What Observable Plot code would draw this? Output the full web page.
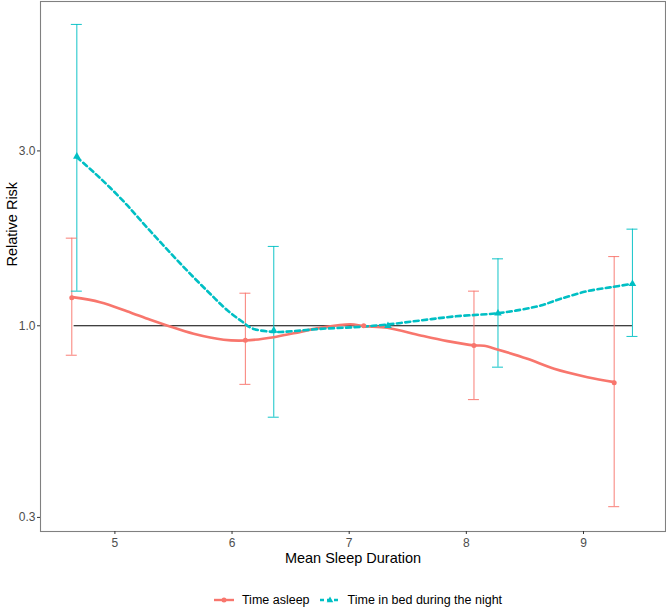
<!DOCTYPE html>
<html>
<head>
<meta charset="utf-8">
<script src="https://cdn.jsdelivr.net/npm/d3@7"></script>
<script src="https://cdn.jsdelivr.net/npm/@observablehq/plot@0.6"></script>
<style>
  body { margin: 0; background: #fff; font-family: "Liberation Sans", Arial, sans-serif; }
  #legend { display: flex; justify-content: center; align-items: center; height: 16px; padding-top: 17px; font-size: 12.5px; color: #000; padding-left: 50px; }
  #legend .item { display: flex; align-items: center; margin: 0 5px; }
  #legend svg { margin-right: 8px; }
</style>
</head>
<body>
<div id="chart"></div>
<div id="legend"></div>
<script>
// ---- data ----
const seriesNames = ["Time asleep", "Time in bed during the night"];
const seriesColors = ["#F8766D", "#00BFC4"];

// smoothed curves
const asleepCurveX = [4.638,4.874,5.103,5.302,5.444,5.672,5.928,6.114,6.356,6.526,6.754,7.011,7.125,7.325,7.609,7.838,8.065,8.150,8.265,8.521,8.749,9.034,9.262];
const asleepCurveRR = [1.197,1.160,1.096,1.038,1.002,0.951,0.916,0.912,0.931,0.954,0.987,1.010,0.998,0.988,0.941,0.908,0.884,0.882,0.862,0.813,0.763,0.724,0.702];
const bedCurveX = [4.675,4.817,4.960,5.103,5.244,5.387,5.530,5.672,5.815,5.957,6.085,6.171,6.356,6.526,6.755,7.039,7.325,7.609,7.894,8.265,8.464,8.635,8.806,9.034,9.233,9.419];
const bedCurveRR = [2.884,2.628,2.380,2.136,1.901,1.693,1.512,1.356,1.221,1.104,1.027,0.984,0.962,0.967,0.981,0.991,1.008,1.034,1.060,1.082,1.106,1.136,1.185,1.243,1.274,1.302];

// point estimates with confidence intervals (null = reference category)
const asleepX = [4.632, 6.114, 7.124, 8.065, 9.262];
const asleepRR = [1.192, 0.913, 1.0, 0.884, 0.699];
const asleepLo = [0.831, 0.692, null, 0.629, 0.321];
const asleepHi = [1.734, 1.227, null, 1.243, 1.545];
const bedX = [4.675, 6.356, 7.331, 8.270, 9.418];
const bedRR = [2.897, 0.971, 1.0, 1.082, 1.302];
const bedLo = [1.243, 0.563, null, 0.771, 0.935];
const bedHi = [6.64, 1.646, null, 1.523, 1.835];

// reference line at RR = 1
const refRR = [1.0];
const refX1 = [4.652];
const refX2 = [9.418];

const xTicks = [5, 6, 7, 8, 9];
const yTicks = [0.3, 1.0, 3.0];

// ---- tables ----
const curves = [
  ...asleepCurveX.map((x, i) => ({x, rr: asleepCurveRR[i], s: seriesNames[0]})),
  ...bedCurveX.map((x, i) => ({x, rr: bedCurveRR[i], s: seriesNames[1]}))
];
const points = [
  ...asleepX.map((x, i) => ({x, rr: asleepRR[i], lo: asleepLo[i], hi: asleepHi[i], s: seriesNames[0]})),
  ...bedX.map((x, i) => ({x, rr: bedRR[i], lo: bedLo[i], hi: bedHi[i], s: seriesNames[1]}))
];
const bars = points.filter(d => d.lo != null);
const caps = bars.flatMap(d => [{x: d.x, y: d.lo, s: d.s}, {x: d.x, y: d.hi, s: d.s}]);
const ref = refRR.map((y, i) => ({y, x1: refX1[i], x2: refX2[i]}));

const color = {domain: seriesNames, range: seriesColors};

const chart = Plot.plot({
  width: 666,
  height: 575,
  marginLeft: 40,
  marginRight: 1,
  marginTop: 1,
  marginBottom: 44,
  style: {fontFamily: "Liberation Sans, Arial, sans-serif", background: "#fff"},
  x: {domain: [4.365, 9.70]},
  y: {type: "log", domain: [0.2746, 7.67]},
  color,
  marks: [
    Plot.ruleY(ref, {y: "y", x1: "x1", x2: "x2", stroke: "#000", strokeWidth: 1.1}),
    Plot.ruleX(bars, {x: "x", y1: "lo", y2: "hi", stroke: "s", strokeWidth: 1.1, strokeOpacity: 0.85}),
    Plot.ruleY(caps, {y: "y", x1: "x", x2: "x", stroke: "s", strokeWidth: 1.1, strokeOpacity: 0.85, insetLeft: -5.5, insetRight: -5.5}),
    Plot.line(curves.filter(d => d.s === seriesNames[0]), {x: "x", y: "rr", stroke: "s", strokeWidth: 2.6, curve: "catmull-rom"}),
    Plot.line(curves.filter(d => d.s === seriesNames[1]), {x: "x", y: "rr", stroke: "s", strokeWidth: 2.6, strokeDasharray: "5,3.5", curve: "catmull-rom"}),
    Plot.dot(points.filter(d => d.s === seriesNames[0]), {x: "x", y: "rr", fill: "s", r: 2.5, symbol: "circle"}),
    Plot.dot(points.filter(d => d.s === seriesNames[1]), {x: "x", y: "rr", fill: "s", r: 2.8, symbol: "triangle"}),
    Plot.frame({stroke: "#808080", strokeWidth: 1.1}),
    Plot.axisX({ticks: xTicks, tickSize: 3, tickPadding: 4, tickFormat: d3.format("d"), label: null, fontSize: 12, color: "#4d4d4d", stroke: "#333"}),
    Plot.axisY({ticks: yTicks, tickSize: 3, tickPadding: 2, tickFormat: d3.format(".1f"), label: null, fontSize: 12, color: "#4d4d4d", stroke: "#333"}),
    Plot.text(["Mean Sleep Duration"], {frameAnchor: "bottom", dy: 31, text: d => d, fontSize: 14.5, fill: "#000"}),
    Plot.text(["Relative Risk"], {frameAnchor: "left", dx: -28, rotate: -90, text: d => d, fontSize: 14.5, fill: "#000"})
  ]
});
document.getElementById("chart").appendChild(chart);

// legend
const legend = document.getElementById("legend");
seriesNames.forEach((name, i) => {
  const item = document.createElement("div");
  item.className = "item";
  const dash = i === 1 ? 'stroke-dasharray="4,3"' : '';
  const marker = i === 0
    ? `<circle cx="10" cy="7" r="2.5" fill="${seriesColors[i]}"/>`
    : `<path d="M10,3.5 L13.3,9.3 L6.7,9.3 Z" fill="${seriesColors[i]}"/>`;
  item.innerHTML = `<svg width="20" height="14"><line x1="0" x2="20" y1="7" y2="7" stroke="${seriesColors[i]}" stroke-width="2.4" ${dash}/>${marker}</svg><span>${name}</span>`;
  legend.appendChild(item);
});
</script>
</body>
</html>
